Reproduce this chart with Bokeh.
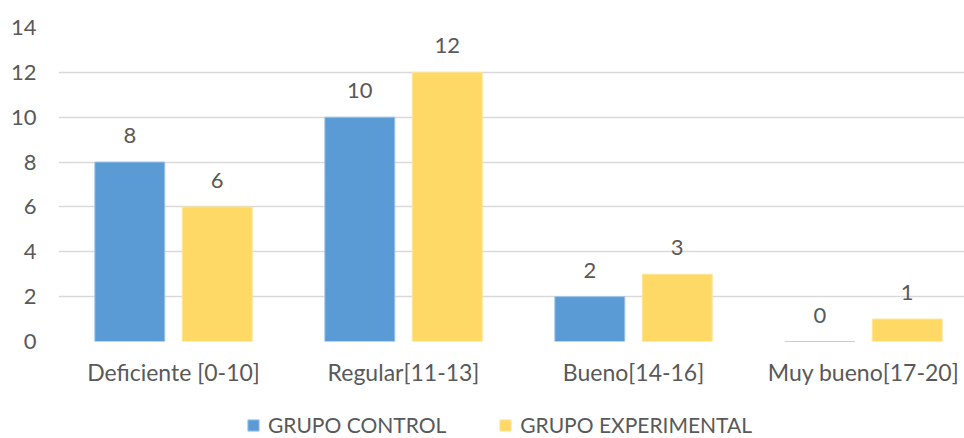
from bokeh.plotting import figure
from bokeh.layouts import column
from bokeh.models import ColumnDataSource, Range1d, FixedTicker, Legend, LegendItem
from bokeh.transform import dodge
from bokeh.embed import file_html
from bokeh.resources import INLINE
from bokeh.core.properties import value

categories = ["Deficiente [0-10]", "Regular[11-13]", "Bueno[14-16]", "Muy bueno[17-20]"]
control = [8, 10, 2, 0]
experimental = [6, 12, 3, 1]
series_names = ["GRUPO CONTROL", "GRUPO EXPERIMENTAL"]
y_ticks = [0, 2, 4, 6, 8, 10, 12, 14]

FONT = "Lato"
FS = "22px"
TXT = "#595959"
BLUE = "#5b9bd5"
YELLOW = "#ffd966"

xpos = [i + 0.5 for i in range(len(categories))]
src = ColumnDataSource(dict(
    x=xpos,
    control=control,
    experimental=experimental,
    control_txt=[str(v) for v in control],
    experimental_txt=[str(v) for v in experimental],
))

p = figure(width=964, height=388, output_backend="svg", toolbar_location=None,
           x_range=Range1d(0, 3.939), y_range=Range1d(0, 14),
           min_border_left=58, min_border_right=0, min_border_top=27, min_border_bottom=46)
p.outline_line_color = None
p.background_fill_color = "white"
p.border_fill_color = "white"

OFF = 0.19
W = 0.304
r1 = p.vbar(x=dodge("x", -OFF), top="control", width=W, source=src,
            fill_color=BLUE, line_color="#9cc3e8", line_width=1)
r2 = p.vbar(x=dodge("x", OFF), top="experimental", width=W, source=src,
            fill_color=YELLOW, line_color="#ffe599", line_width=1)

p.text(x=dodge("x", -OFF), y="control", text="control_txt", source=src,
       text_align="center", text_baseline="bottom", y_offset=-19,
       text_font=value(FONT), text_font_size=FS, text_color=TXT)
p.text(x=dodge("x", OFF), y="experimental", text="experimental_txt", source=src,
       text_align="center", text_baseline="bottom", y_offset=-19,
       text_font=value(FONT), text_font_size=FS, text_color=TXT)

p.xgrid.grid_line_color = None
p.ygrid.grid_line_color = "#d9d9d9"
p.ygrid.grid_line_width = 1.5
p.yaxis.ticker = FixedTicker(ticks=y_ticks)
p.xaxis.ticker = FixedTicker(ticks=xpos)
p.xaxis.major_label_overrides = {x: c for x, c in zip(xpos, categories)}

for ax in (p.xaxis, p.yaxis):
    ax.axis_line_color = None
    ax.major_tick_line_color = None
    ax.minor_tick_line_color = None
    ax.major_tick_out = 0
    ax.major_tick_in = 0
    ax.major_label_text_font = FONT
    ax.major_label_text_font_size = FS
    ax.major_label_text_color = TXT
p.yaxis.major_label_standoff = 22
p.xaxis.major_label_standoff = 16
p.xaxis.major_label_text_font_size = "23px"

# legend strip below the chart (its key renderers sit outside the visible range)
lg = figure(width=964, height=50, output_backend="svg", toolbar_location=None,
            x_range=Range1d(0, 1), y_range=Range1d(0, 1),
            min_border_left=58, min_border_right=0, min_border_top=0, min_border_bottom=0)
lg.axis.visible = False
lg.grid.visible = False
lg.outline_line_color = None
lg.border_fill_color = "white"
k1 = lg.vbar(x=[-5], top=[0], width=0.1, fill_color=BLUE, line_color="#9cc3e8")
k2 = lg.vbar(x=[-5], top=[0], width=0.1, fill_color=YELLOW, line_color="#ffe599")
legend = Legend(items=[LegendItem(label=series_names[0], renderers=[k1]),
                       LegendItem(label=series_names[1], renderers=[k2])],
                orientation="horizontal", location=(188, 1),
                label_text_font=FONT, label_text_font_size="21px", label_text_color=TXT,
                glyph_width=14, glyph_height=14, label_standoff=8, spacing=52,
                border_line_color=None, background_fill_alpha=0,
                padding=0, margin=0)
lg.add_layout(legend, "center")

layout = column(p, lg, spacing=0)
open("out.html", "w").write(file_html(layout, INLINE))
